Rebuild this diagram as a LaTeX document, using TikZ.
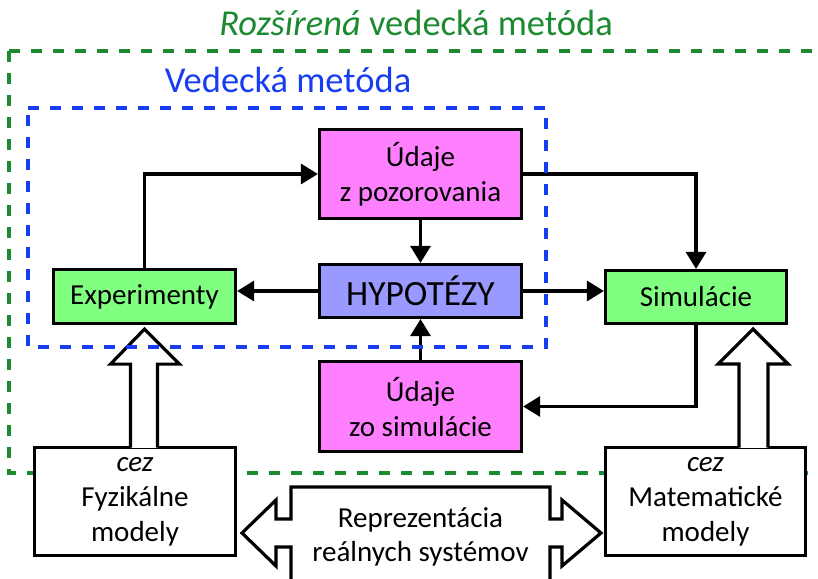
\documentclass[tikz,border=0pt]{standalone}
\usepackage{fontspec}
\setmainfont{Carlito}
\usetikzlibrary{arrows.meta,calc}
\definecolor{ggreen}{RGB}{28,138,48}
\definecolor{bblue}{RGB}{22,62,240}
\definecolor{boxgreen}{RGB}{128,255,128}
\definecolor{boxmag}{RGB}{255,128,255}
\definecolor{boxviolet}{RGB}{153,153,255}
\tikzset{
  box/.style={draw=black, line width=3.2pt, inner sep=0pt, align=center,
    font=\fontsize{29}{35}\selectfont},
  conn/.style={draw=black, line width=3.2pt, -{Triangle[length=17pt,width=20pt]}},
  hollow/.style={draw=black, line width=3.2pt, line join=miter},
  gdash/.style={draw=ggreen, line width=3.5pt, dash pattern=on 11pt off 11pt},
  bdash/.style={draw=bblue, line width=3.5pt, dash pattern=on 11pt off 11pt},
}
\begin{document}
\begin{tikzpicture}[x=1pt,y=-1pt]
\useasboundingbox (0,0) rectangle (818,578);

% green dashed frame (extended method)
\draw[gdash] (9,51) -- (840,51);
\draw[gdash] (9,51) -- (9,473) -- (840,473);

% boxes
\node[box, fill=boxmag, minimum width=202pt, minimum height=89pt] (obs) at (420.5,174) {Údaje\\z pozorovania};
\node[box, fill=boxviolet, minimum width=202pt, minimum height=53pt, font=\fontsize{35.5}{40}\selectfont] (hyp) at (420.5,291) {HYPOTÉZY};
\node[box, fill=boxgreen, minimum width=182pt, minimum height=54pt] (exp) at (144.5,296.5) {Experimenty};
\node[box, fill=boxgreen, minimum width=181pt, minimum height=53pt] (sim) at (696,297) {Simulácie};
\node[box, fill=boxmag, minimum width=202pt, minimum height=90pt] (sdat) at (420.5,406.5) {Údaje\\zo simulácie};
\node[box, fill=white, minimum width=201pt, minimum height=108pt] (fyz) at (135,501.5) {\textit{cez}\\Fyzikálne\\modely};
\node[box, fill=white, minimum width=200pt, minimum height=108pt] (mat) at (705.5,501.5) {\textit{cez}\\Matematické\\modely};

% connectors
\draw[conn] (exp.north) |- (obs.west);
\draw[conn] (obs.east) -| (sim.north);
\draw[conn] (obs.south) -- (hyp.north);
\draw[conn] (hyp.west) -- (exp.east |- hyp.west);
\draw[conn] (hyp.east) -- (sim.west |- hyp.east);
\draw[conn] (sim.south) |- (sdat.east);
\draw[conn] (sdat.north) -- (hyp.south);

% hollow block arrows (models -> experiments / simulations)
\path (exp.south) ++(0,4) coordinate (lt);
\path (lt |- fyz.north) coordinate (lb);
\fill[white] (lt) -- ++(35,35) -- ++(-22,0) -- ($(lb)+(13,2)$) -- ($(lb)+(-14,2)$) -- ($(lt)+(-14,35)$) -- ($(lt)+(-34,35)$) -- cycle;
\draw[hollow] ($(lb)+(-14,1.6)$) -- ($(lt)+(-14,35)$) -- ($(lt)+(-34,35)$) -- (lt) -- ++(35,35) -- ++(-22,0) -- ($(lb)+(13,1.6)$);

\coordinate (rt) at (753,329);
\path (rt |- mat.north) coordinate (rb);
\fill[white] (rt) -- ++(35,35) -- ++(-20,0) -- ($(rb)+(15,2)$) -- ($(rb)+(-14,2)$) -- ($(rt)+(-14,35)$) -- ($(rt)+(-35,35)$) -- cycle;
\draw[hollow] ($(rb)+(-14,1.6)$) -- ($(rt)+(-14,35)$) -- ($(rt)+(-35,35)$) -- (rt) -- ++(35,35) -- ++(-20,0) -- ($(rb)+(15,1.6)$);

% double block arrow (representation)
\draw[hollow, fill=white] (291,600) -- (291,547) -- (276,547) -- (276,566) -- (242,533)
  -- (276,500) -- (276,519) -- (291,519) -- (291,487) -- (550,487) -- (550,519)
  -- (562,519) -- (562,500) -- (601,533) -- (562,566) -- (562,547) -- (550,547) -- (550,600);
\node[align=center, font=\fontsize{29}{34}\selectfont, inner sep=0pt] (rep) at (420.5,537) {Reprezentácia\\reálnych systémov};

% blue dashed frame (scientific method)
\draw[bdash] (28,108) -- (546,108) -- (546,347) -- (28,347) -- cycle;

% titles
\node[anchor=base, text=ggreen, font=\fontsize{36.5}{40}\selectfont, inner sep=0pt] (t1) at (416,36) {\textit{Rozšírená} vedecká metóda};
\node[anchor=base, text=bblue, font=\fontsize{36.5}{40}\selectfont, inner sep=0pt] (t2) at (288,92) {Vedecká metóda};
\end{tikzpicture}
\end{document}
